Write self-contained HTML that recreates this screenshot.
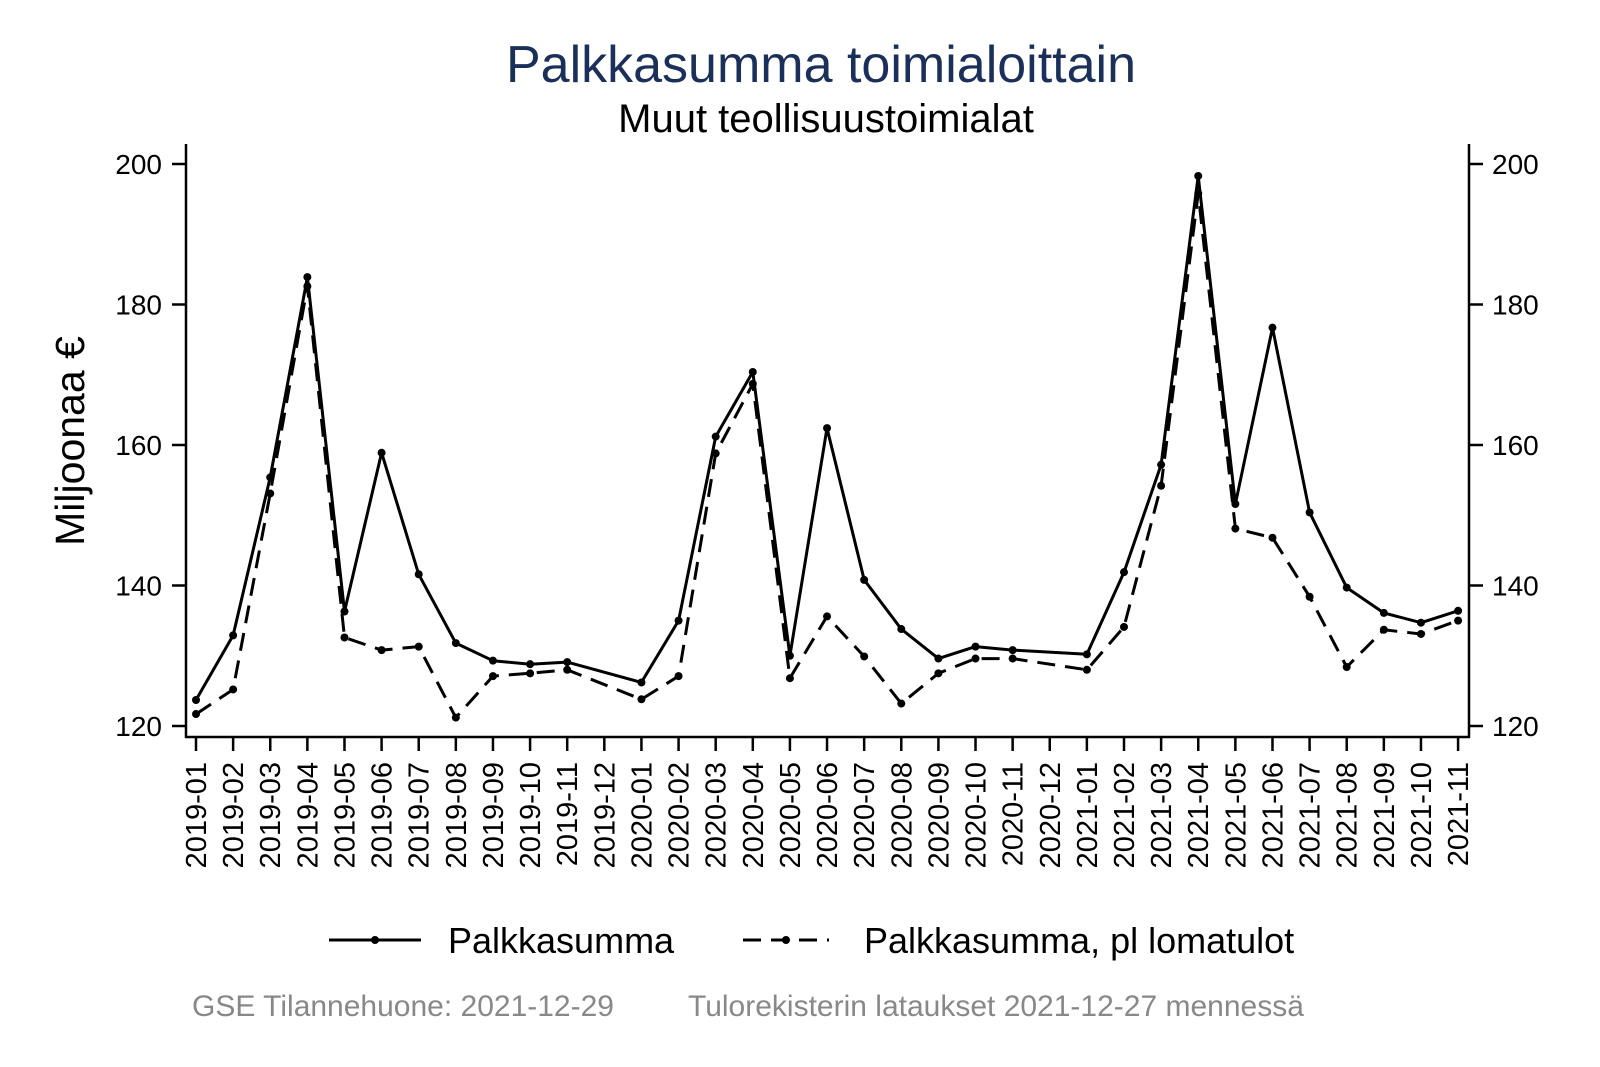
<!DOCTYPE html>
<html><head><meta charset="utf-8"><style>
html,body{margin:0;padding:0;background:#fff;}
svg{display:block;font-family:"Liberation Sans",Arial,sans-serif;}
</style></head><body>
<svg id="s" width="1600" height="1067" viewBox="0 0 1600 1067" xmlns="http://www.w3.org/2000/svg">
<rect width="1600" height="1067" fill="#fff"/>
<text x="821" y="82" font-size="52" fill="#1a2f5a" text-anchor="middle">Palkkasumma toimialoittain</text>
<text x="826" y="132" font-size="40" fill="#000" text-anchor="middle">Muut teollisuustoimialat</text>
<text transform="translate(84,441) rotate(-90)" font-size="41" text-anchor="middle">Miljoonaa €</text>
<g stroke="#000" stroke-width="2.5" fill="none">
<line x1="186" y1="144" x2="186" y2="738"/>
<line x1="1469" y1="144" x2="1469" y2="738"/>
<line x1="185" y1="737" x2="1470" y2="737"/>
</g>
<g id="ax"></g>
<g id="series"></g>
<g stroke="#000" stroke-width="3">
<line x1="329" y1="940" x2="421" y2="940"/>
<line x1="743" y1="940" x2="829" y2="940" stroke-dasharray="18,10"/>
</g>
<circle cx="375" cy="940" r="4"/><circle cx="786" cy="940" r="4"/>
<text x="448" y="953" font-size="36">Palkkasumma</text>
<text x="864" y="953" font-size="36">Palkkasumma, pl lomatulot</text>
<text x="192" y="1016" font-size="30" fill="#888">GSE Tilannehuone: 2021-12-29</text>
<text x="688" y="1016" font-size="30" fill="#888">Tulorekisterin lataukset 2021-12-27 mennessä</text>
</svg>
<script>
var NS="http://www.w3.org/2000/svg";
function el(t,a,p,txt){var e=document.createElementNS(NS,t);for(var k in a)e.setAttribute(k,a[k]);if(txt)e.textContent=txt;p.appendChild(e);return e;}
var ax=document.getElementById('ax'),se=document.getElementById('series');
function Y(v){return 164+(200-v)*7.025;}
function X(i){return 196+i*37.12;}
[120,140,160,180,200].forEach(function(v){
 var y=Y(v);
 el('line',{x1:172,y1:y,x2:186,y2:y,stroke:'#000','stroke-width':2.5},ax);
 el('line',{x1:1469,y1:y,x2:1483,y2:y,stroke:'#000','stroke-width':2.5},ax);
 el('text',{x:162,y:y+10,'font-size':28,'text-anchor':'end'},ax,String(v));
 el('text',{x:1492,y:y+10,'font-size':28},ax,String(v));
});
var labels=[];
for(var yr=2019;yr<=2021;yr++)for(var m=1;m<=12;m++){if(yr==2021&&m>11)break;labels.push(yr+'-'+(m<10?'0':'')+m);}
labels.forEach(function(l,i){
 var x=X(i);
 el('line',{x1:x,y1:737,x2:x,y2:751,stroke:'#000','stroke-width':2.5},ax);
 el('text',{transform:'translate('+(x+10)+',762) rotate(-90)','font-size':29,'text-anchor':'end'},ax,l);
});
var A=[123.7,132.9,155.4,183.9,136.3,158.9,141.6,131.8,129.3,128.8,129.1,null,126.2,135.0,161.2,170.4,130.0,162.4,140.8,133.8,129.6,131.3,130.8,null,130.2,141.9,157.2,198.3,151.6,176.7,150.4,139.7,136.1,134.7,136.4];
var B=[121.7,125.2,153.1,182.6,132.6,130.8,131.3,121.2,127.1,127.5,128.0,null,123.8,127.1,158.8,168.7,126.8,135.6,129.9,123.2,127.5,129.6,129.6,null,128.0,134.1,154.2,195.8,148.1,146.8,138.4,128.4,133.7,133.1,135.0];
function draw(d,dash){
 var pts=[];d.forEach(function(v,i){if(v!==null)pts.push(X(i).toFixed(1)+','+Y(v).toFixed(1));});
 var a={points:pts.join(' '),fill:'none',stroke:'#000','stroke-width':3,'stroke-linejoin':'round'};
 if(dash)a['stroke-dasharray']='18,10';
 el('polyline',a,se);
 d.forEach(function(v,i){if(v!==null)el('circle',{cx:X(i),cy:Y(v),r:4,fill:'#000'},se);});
}
draw(B,true);draw(A,false);
</script>
</body></html>
